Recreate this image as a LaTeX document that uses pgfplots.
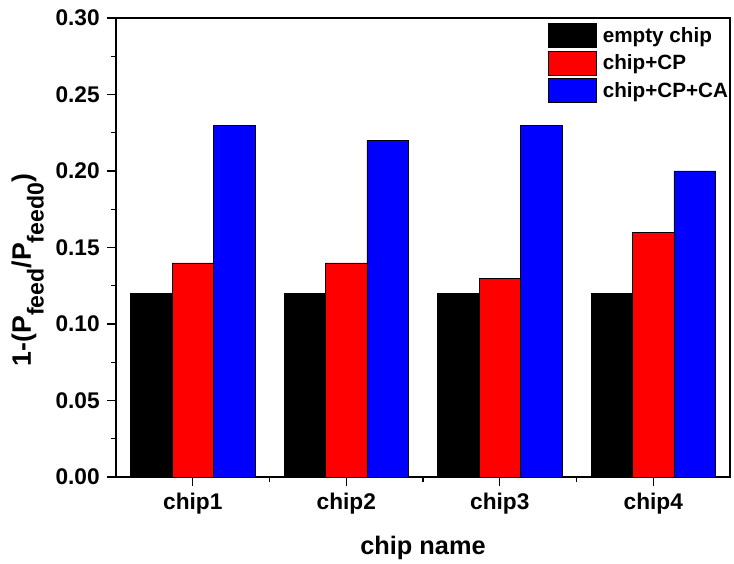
\documentclass[border=0pt]{standalone}
\usepackage{fontspec}
\setmainfont{Liberation Sans}
\usepackage{pgfplots}
\pgfplotsset{compat=1.18}
\newcommand\sub[1]{\raisebox{-9.5pt}{\fontsize{17.3pt}{19pt}\selectfont\bfseries #1}}
\begin{document}
\begin{tikzpicture}
\begin{axis}[
  at={(0,0)}, anchor=south west,
  scale only axis,
  width=460.5pt, height=344.25pt,
  xmin=0.5, xmax=4.5,
  ymin=0, ymax=0.30,
  ybar=0pt, bar width=31.1pt,
  xtick={1,2,3,4},
  xticklabels={chip1,chip2,chip3,chip4},
  minor xtick={1.5,2.5,3.5},
  ytick={0,0.05,0.10,0.15,0.20,0.25,0.30},
  minor y tick num=1,
  tick pos=left,
  tick align=outside,
  major tick length=6.5pt,
  minor tick length=3.5pt,
  axis line style={line width=1pt},
  every tick/.style={line width=1pt, black},
  /pgf/number format/assume math mode=true,
  yticklabel style={xshift=-2.25pt, /pgf/number format/.cd, fixed, fixed zerofill, precision=2},
  xticklabel style={yshift=-2pt},
  tick label style={font=\fontsize{17pt}{20pt}\selectfont\bfseries},
  xlabel={chip name},
  ylabel={1-(P\sub{feed}/P\sub{feed0})},
  label style={font=\fontsize{19pt}{22pt}\selectfont\bfseries},
  xlabel style={at={(axis description cs:0.5,-0.1547)}, anchor=center},
  ylabel style={at={(axis description cs:-0.1385,0.451)}, anchor=base, rotate=0, font=\fontsize{20pt}{23pt}\selectfont\bfseries},
  legend style={at={(axis description cs:0.7036,0.989)}, anchor=north west,
    draw=none, fill=none, inner sep=0pt, row sep=2.25pt,
    font=\fontsize{15.5pt}{18pt}\selectfont\bfseries,
    nodes={inner xsep=4.5pt, inner ysep=0pt}},
  legend cell align=left,
  legend image code/.code={\draw[#1, draw=black, line width=0.4pt] (0pt,-9pt) rectangle (36pt,9pt);},
]
\addplot[fill=black, draw=black, line width=0.4pt] coordinates {(1,0.12) (2,0.12) (3,0.12) (4,0.12)};
\addplot[fill=red, draw=black, line width=0.4pt] coordinates {(1,0.14) (2,0.14) (3,0.13) (4,0.16)};
\addplot[fill=blue, draw=black, line width=0.4pt] coordinates {(1,0.23) (2,0.22) (3,0.23) (4,0.20)};
\legend{empty chip, chip+CP, chip+CP+CA}
\end{axis}
\pgfresetboundingbox
\useasboundingbox (-87pt,-64.5pt) rectangle (463.5pt,357.75pt);
\end{tikzpicture}
\end{document}
